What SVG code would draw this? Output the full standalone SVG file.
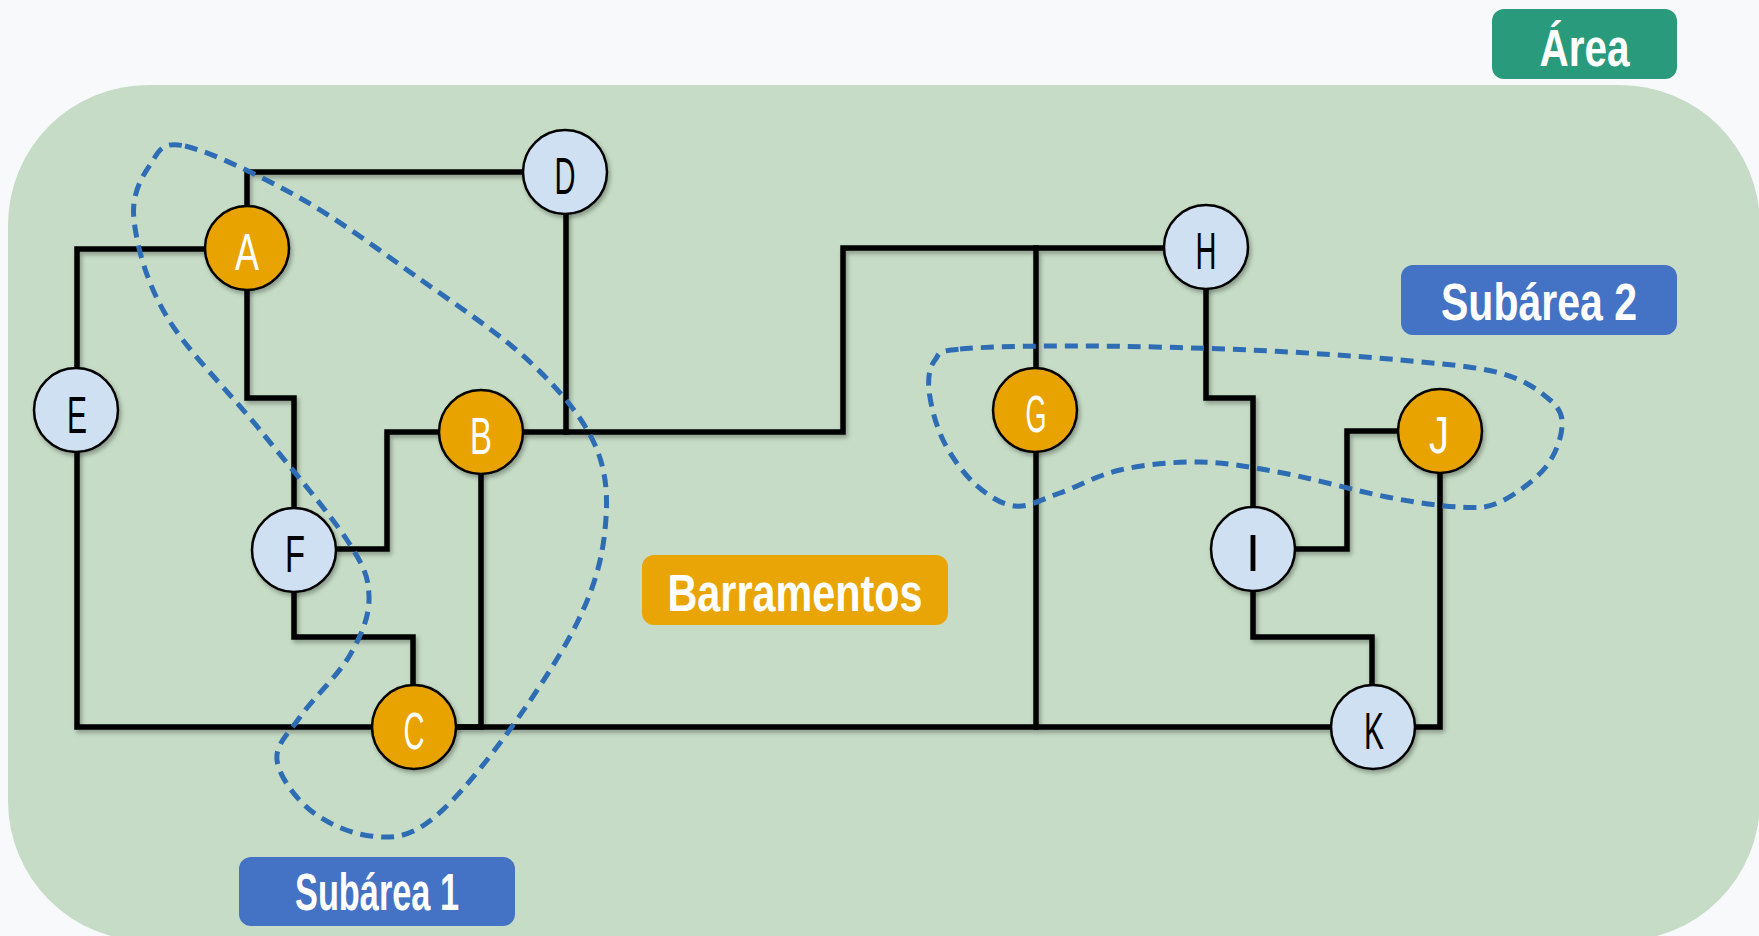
<svg xmlns="http://www.w3.org/2000/svg" width="1759" height="936" viewBox="0 0 1759 936">
<defs>
<style>
.wire{fill:none;stroke:#000;stroke-width:5.5;stroke-linejoin:miter;stroke-linecap:square}
.loop{fill:none;stroke:#2E6DB4;stroke-width:5;stroke-dasharray:13 8}
.bus{fill:#E8A304;stroke:#000;stroke-width:2.5}
.node{fill:#CFE0F2;stroke:#000;stroke-width:2.5}
.lbl{font-family:"Liberation Sans",Arial,sans-serif;font-size:52px;text-anchor:middle}
.lw{fill:#FFFFFF}
.lk{fill:#000000}
.tag{font-family:"Liberation Sans",Arial,sans-serif;font-weight:bold;font-size:51px;text-anchor:middle;fill:#FFFFFF}
</style>
<filter id="sh" x="-20%" y="-20%" width="140%" height="140%">
<feDropShadow dx="2" dy="3" stdDeviation="2" flood-color="#000" flood-opacity="0.3"/>
</filter>
</defs>
<rect x="0" y="0" width="1759" height="936" fill="#F8F9FB"/>
<rect id="area" x="8" y="85" width="1752" height="856" rx="140" ry="140" fill="#C6DCC6"/>

<g id="connectors" filter="url(#sh)">
<path class="wire" d="M247,206 V172 H523"/>
<path class="wire" d="M205,249 H77 V368"/>
<path class="wire" d="M247,290 V398 H294 V508"/>
<path class="wire" d="M566,214 V432"/>
<path class="wire" d="M523,432 H843 V248 H1164"/>
<path class="wire" d="M1036,248 V369"/>
<path class="wire" d="M336,549 H387 V432 H438"/>
<path class="wire" d="M294,591 V637 H413 V685"/>
<path class="wire" d="M77,452 V727 H371"/>
<path class="wire" d="M481,474 V727 H456"/>
<path class="wire" d="M456,727 H1330"/>
<path class="wire" d="M1036,452 V727"/>
<path class="wire" d="M1206,288 V398 H1253 V507"/>
<path class="wire" d="M1397,431 H1347 V549 H1296"/>
<path class="wire" d="M1253,590 V637 H1372 V686"/>
<path class="wire" d="M1440,473 V727 H1415"/>
</g>

<g id="subarea1-loop">
<path class="loop" d="M185,146 C210,151.5 261.3,176.2 300,198 C338.7,219.8 378.7,249.7 417,277 C455.3,304.3 500.3,334 530,362 C559.7,390 582.5,417 595,445 C607.5,473 608,500.3 605,530 C602,559.7 594.5,587.5 577,623 C559.5,658.5 525,709.7 500,743 C475,776.3 448.7,807.5 427,823 C405.3,838.5 389.5,838.2 370,836 C350.5,833.8 325.5,822.7 310,810 C294.5,797.3 278.7,775.5 277,760 C275.3,744.5 287.8,734.5 300,717 C312.2,699.5 338.5,675 350,655 C361.5,635 369.5,616.2 369,597 C368.5,577.8 365.2,567.8 347,540 C328.8,512.2 290,467.2 260,430 C230,392.8 188,352 167,317 C146,282 136.8,245.3 134,220 C131.2,194.7 141.5,177.3 150,165 C158.5,152.7 160,140.5 185,146 Z"/>
</g>
<g id="subarea2-loop">
<path class="loop" d="M960,349 C984.7,346.7 1034.7,345.8 1083,346 C1131.3,346.2 1197.2,347.7 1250,350 C1302.8,352.3 1358.3,356.2 1400,360 C1441.7,363.8 1475,366.3 1500,373 C1525,379.7 1539.7,391 1550,400 C1560.3,409 1562.8,415.7 1562,427 C1561.2,438.3 1555.3,455.5 1545,468 C1534.7,480.5 1514.2,495.5 1500,502 C1485.8,508.5 1478.8,507.8 1460,507 C1441.2,506.2 1416.5,502.7 1387,497 C1357.5,491.3 1314.2,478.8 1283,473 C1251.8,467.2 1227.2,462.5 1200,462 C1172.8,461.5 1143.3,464.8 1120,470 C1096.7,475.2 1077.5,487 1060,493 C1042.5,499 1029.2,507.5 1015,506 C1000.8,504.5 987,495 975,484 C963,473 950.7,455.7 943,440 C935.3,424.3 930.3,403.3 929,390 C927.7,376.7 929.8,366.8 935,360 C940.2,353.2 935.3,351.3 960,349 Z"/>
</g>

<g id="node-A"><circle class="bus" cx="247" cy="248" r="42" filter="url(#sh)"/><text class="lbl lw" x="247" y="270" textLength="24" lengthAdjust="spacingAndGlyphs">A</text></g>
<g id="node-B"><circle class="bus" cx="481" cy="432" r="42" filter="url(#sh)"/><text class="lbl lw" x="481" y="454" textLength="22" lengthAdjust="spacingAndGlyphs">B</text></g>
<g id="node-C"><circle class="bus" cx="414" cy="727" r="42" filter="url(#sh)"/><text class="lbl lw" x="414" y="749" textLength="21" lengthAdjust="spacingAndGlyphs">C</text></g>
<g id="node-D"><circle class="node" cx="565" cy="172" r="42" filter="url(#sh)"/><text class="lbl lk" x="565" y="194" textLength="21" lengthAdjust="spacingAndGlyphs">D</text></g>
<g id="node-E"><circle class="node" cx="76" cy="410" r="42" filter="url(#sh)"/><text class="lbl lk" x="77" y="433" textLength="20" lengthAdjust="spacingAndGlyphs">E</text></g>
<g id="node-F"><circle class="node" cx="294" cy="550" r="42" filter="url(#sh)"/><text class="lbl lk" x="295" y="572" textLength="20" lengthAdjust="spacingAndGlyphs">F</text></g>
<g id="node-G"><circle class="bus" cx="1035" cy="410" r="42" filter="url(#sh)"/><text class="lbl lw" x="1036" y="432" textLength="21" lengthAdjust="spacingAndGlyphs">G</text></g>
<g id="node-H"><circle class="node" cx="1206" cy="247" r="42" filter="url(#sh)"/><text class="lbl lk" x="1206" y="269" textLength="21" lengthAdjust="spacingAndGlyphs">H</text></g>
<g id="node-I"><circle class="node" cx="1253" cy="549" r="42" filter="url(#sh)"/><text class="lbl lk" x="1253" y="571">I</text></g>
<g id="node-J"><circle class="bus" cx="1440" cy="431" r="42" filter="url(#sh)"/><text class="lbl lw" x="1439" y="453" textLength="20" lengthAdjust="spacingAndGlyphs">J</text></g>
<g id="node-K"><circle class="node" cx="1373" cy="727" r="42" filter="url(#sh)"/><text class="lbl lk" x="1374" y="749" textLength="20" lengthAdjust="spacingAndGlyphs">K</text></g>

<g id="label-area"><rect x="1492" y="9" width="185" height="70" rx="12" fill="#2A9A7C"/><text class="tag" x="1584.5" y="66" textLength="90" lengthAdjust="spacingAndGlyphs">Área</text></g>
<g id="label-subarea2"><rect x="1401" y="265" width="276" height="70" rx="12" fill="#4472C4"/><text class="tag" x="1539" y="320" textLength="196" lengthAdjust="spacingAndGlyphs">Subárea 2</text></g>
<g id="label-subarea1"><rect x="239" y="857" width="276" height="69" rx="12" fill="#4472C4"/><text class="tag" x="377" y="910" textLength="164" lengthAdjust="spacingAndGlyphs">Subárea 1</text></g>
<g id="label-barramentos"><rect x="642" y="555" width="306" height="70" rx="12" fill="#E9A505"/><text class="tag" x="795" y="611" textLength="255" lengthAdjust="spacingAndGlyphs">Barramentos</text></g>
</svg>
